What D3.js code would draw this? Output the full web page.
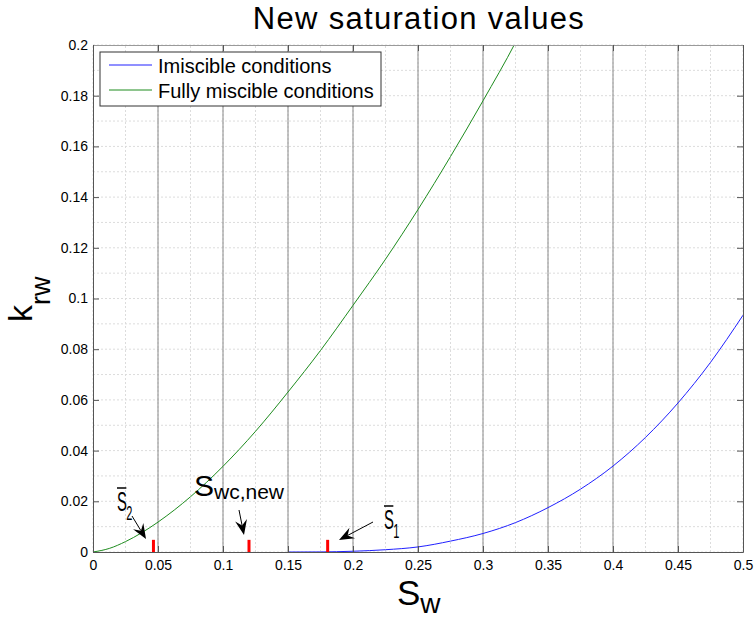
<!DOCTYPE html>
<html>
<head>
<meta charset="utf-8">
<script src="https://cdn.jsdelivr.net/npm/d3@7"></script>
<style>
  body { margin: 0; background: #fff; }
  svg { display: block; font-family: Arial, "Liberation Sans", Helvetica, sans-serif; }
</style>
</head>
<body>
<div id="chart"></div>
<script>
////////////////////////////// DATA ////////////////////////////////////

// Fully miscible conditions (green)
const swMiscible = [0, 0.0125, 0.025, 0.0375, 0.05, 0.075, 0.1, 0.125, 0.15, 0.175, 0.2, 0.225, 0.25, 0.275, 0.3, 0.325, 0.33];
const krwMiscible = [0, 0.0014, 0.0041, 0.0076, 0.0118, 0.0218, 0.0338, 0.0476, 0.0631, 0.0795, 0.0973, 0.1155, 0.1351, 0.156, 0.178, 0.201, 0.206];

// Imiscible conditions (blue)
const swImmiscible = [0.15, 0.175, 0.2, 0.225, 0.25, 0.275, 0.3, 0.325, 0.35, 0.375, 0.4, 0.425, 0.45, 0.475, 0.5];
const krwImmiscible = [0, 0.00003, 0.0003, 0.0009, 0.002, 0.0043, 0.0073, 0.0116, 0.0175, 0.0248, 0.0339, 0.0452, 0.0588, 0.0748, 0.0934];

// Red saturation markers (S2 bar, Swc,new, S1 bar)
const markerSw = [0.0465, 0.12, 0.1805];
const markerHeight = 0.0048;

const xTicks = [0, 0.05, 0.1, 0.15, 0.2, 0.25, 0.3, 0.35, 0.4, 0.45, 0.5];
const yTicks = [0, 0.02, 0.04, 0.06, 0.08, 0.1, 0.12, 0.14, 0.16, 0.18, 0.2];
const legendLabels = ["Imiscible conditions", "Fully miscible conditions"];

////////////////////////////// SET UP ////////////////////////////////////

const width = 754;
const height = 626;
const margin = { top: 45, right: 11, bottom: 74, left: 93 };
const innerW = width - margin.left - margin.right;
const innerH = height - margin.top - margin.bottom;

const svg = d3
  .select("#chart")
  .append("svg")
  .attr("width", width)
  .attr("height", height);

const x = d3.scaleLinear().domain([0, 0.5]).range([margin.left, margin.left + innerW]);
const y = d3.scaleLinear().domain([0, 0.2]).range([margin.top + innerH, margin.top]);

const fmt = (d) => (d === 0 ? "0" : String(+d.toFixed(3)));

svg.append("clipPath").attr("id", "plot-clip")
  .append("rect")
  .attr("x", margin.left).attr("y", margin.top)
  .attr("width", innerW).attr("height", innerH);

////////////////////////////// GRID ////////////////////////////////////

// minor dotted grid
const minorY = d3.range(0, 0.2001, 0.01);
const minorX = d3.range(0, 0.5001, 0.025);

svg.append("g")
  .selectAll("line")
  .data(minorY)
  .join("line")
  .attr("x1", x(0)).attr("x2", x(0.5))
  .attr("y1", (d) => y(d)).attr("y2", (d) => y(d))
  .attr("stroke", "#dcdcdc")
  .attr("stroke-dasharray", "2,2");

svg.append("g")
  .selectAll("line")
  .data(minorX)
  .join("line")
  .attr("x1", (d) => x(d)).attr("x2", (d) => x(d))
  .attr("y1", y(0)).attr("y2", y(0.2))
  .attr("stroke", "#dcdcdc")
  .attr("stroke-dasharray", "2,2");

// major vertical lines
svg.append("g")
  .selectAll("line")
  .data(xTicks.slice(1, -1))
  .join("line")
  .attr("x1", (d) => x(d)).attr("x2", (d) => x(d))
  .attr("y1", y(0)).attr("y2", y(0.2))
  .attr("stroke", "#8a8a8a")
  .attr("stroke-width", 1);

////////////////////////////// CURVES ////////////////////////////////////

const line = d3.line()
  .x((d) => x(d[0]))
  .y((d) => y(d[1]))
  .curve(d3.curveMonotoneX);

const plot = svg.append("g").attr("clip-path", "url(#plot-clip)");

plot.append("path")
  .datum(d3.zip(swMiscible, krwMiscible))
  .attr("d", line)
  .attr("fill", "none")
  .attr("stroke", "#1e8c1e")
  .attr("stroke-width", 1);

plot.append("path")
  .datum(d3.zip(swImmiscible, krwImmiscible))
  .attr("d", line)
  .attr("fill", "none")
  .attr("stroke", "#2020ff")
  .attr("stroke-width", 1);

// red markers
plot.append("g")
  .selectAll("line")
  .data(markerSw)
  .join("line")
  .attr("x1", (d) => x(d)).attr("x2", (d) => x(d))
  .attr("y1", y(0)).attr("y2", y(markerHeight))
  .attr("stroke", "#ff0000")
  .attr("stroke-width", 3);

////////////////////////////// AXES ////////////////////////////////////

const axisColor = "#555";

const gLeft = svg.append("g")
  .attr("transform", `translate(${margin.left},0)`)
  .call(d3.axisLeft(y).tickValues(yTicks).tickFormat(fmt).tickSizeInner(-6).tickSizeOuter(0).tickPadding(5));

const gBottom = svg.append("g")
  .attr("transform", `translate(0,${margin.top + innerH})`)
  .call(d3.axisBottom(x).tickValues(xTicks).tickFormat(fmt).tickSizeInner(-6).tickSizeOuter(0).tickPadding(8));

const gRight = svg.append("g")
  .attr("transform", `translate(${margin.left + innerW},0)`)
  .call(d3.axisRight(y).tickValues(yTicks).tickFormat("").tickSizeInner(-6).tickSizeOuter(0));

const gTop = svg.append("g")
  .attr("transform", `translate(0,${margin.top})`)
  .call(d3.axisTop(x).tickValues(xTicks).tickFormat("").tickSizeInner(-6).tickSizeOuter(0));

[gLeft, gBottom, gRight, gTop].forEach((g) => {
  g.select(".domain").attr("stroke", axisColor);
  g.selectAll(".tick line").attr("stroke", axisColor);
  g.selectAll(".tick text")
    .attr("fill", "#000")
    .style("font-size", "14px")
    .style("font-family", "Arial, 'Liberation Sans', sans-serif");
});
gTop.select(".domain").attr("stroke", "#9a9a9a");

////////////////////////////// LEGEND ////////////////////////////////////

const legend = svg.append("g").attr("transform", "translate(100,52)");
legend.append("rect")
  .attr("width", 281).attr("height", 54)
  .attr("fill", "#fff")
  .attr("stroke", "#333");

const legendColors = ["#2020ff", "#1e8c1e"];
legendLabels.forEach((label, i) => {
  const ly = 13 + i * 25;
  legend.append("line")
    .attr("x1", 9).attr("x2", 52)
    .attr("y1", ly).attr("y2", ly)
    .attr("stroke", legendColors[i]);
  legend.append("text")
    .attr("x", 58).attr("y", ly + 7.5)
    .style("font-size", "20px")
    .text(label);
});

////////////////////////////// TEXT ////////////////////////////////////

svg.append("text")
  .attr("x", 419).attr("y", 29)
  .attr("text-anchor", "middle")
  .style("font-size", "31px")
  .style("letter-spacing", "1.3px")
  .text("New saturation values");

// y label k_rw
const yl = svg.append("text")
  .attr("transform", "translate(32,322) rotate(-90)")
  .style("font-size", "34px");
yl.append("tspan").text("k");
yl.append("tspan").attr("dy", 18).style("font-size", "27px").text("rw");

// x label S_w
const xl = svg.append("text")
  .attr("x", 397).attr("y", 605)
  .style("font-size", "35px");
xl.append("tspan").text("S");
xl.append("tspan").attr("dy", 8).style("font-size", "28px").text("w");

////////////////////////////// ANNOTATIONS ////////////////////////////////////

function arrow(x1, y1, x2, y2) {
  const a = Math.atan2(y2 - y1, x2 - x1);
  const len = 15, half = 6;
  const bx = x2 - len * Math.cos(a), by = y2 - len * Math.sin(a);
  const mx = x2 - len * 0.65 * Math.cos(a), my = y2 - len * 0.65 * Math.sin(a);
  const px = -Math.sin(a) * half, py = Math.cos(a) * half;
  svg.append("line")
    .attr("x1", x1).attr("y1", y1).attr("x2", mx).attr("y2", my)
    .attr("stroke", "#000").attr("stroke-width", 1);
  svg.append("path")
    .attr("d", `M${x2},${y2}L${bx + px},${by + py}L${mx},${my}L${bx - px},${by - py}Z`)
    .attr("fill", "#000");
}

function barLabel(xp, yp, sub) {
  const g = svg.append("g").attr("transform", `translate(${xp},${yp}) scale(0.55,1)`);
  g.append("text").attr("x", 0).attr("y", 0).style("font-size", "27px").text("S");
  g.append("line")
    .attr("x1", 0).attr("x2", 17)
    .attr("y1", -23).attr("y2", -23)
    .attr("stroke", "#000").attr("stroke-width", 1.5);
  g.append("text").attr("x", 17).attr("y", 9).style("font-size", "20px").text(sub);
}

barLabel(117, 511, "2");
arrow(132, 516, 146, 539);

barLabel(384, 529, "1");
arrow(373, 522, 339, 540);

const swc = svg.append("text").attr("x", 194).attr("y", 496).style("font-size", "30px");
swc.append("tspan").text("S");
swc.append("tspan").attr("dy", 3).style("font-size", "21px").text("wc,new");
arrow(239, 510, 244, 535);
</script>
</body>
</html>
